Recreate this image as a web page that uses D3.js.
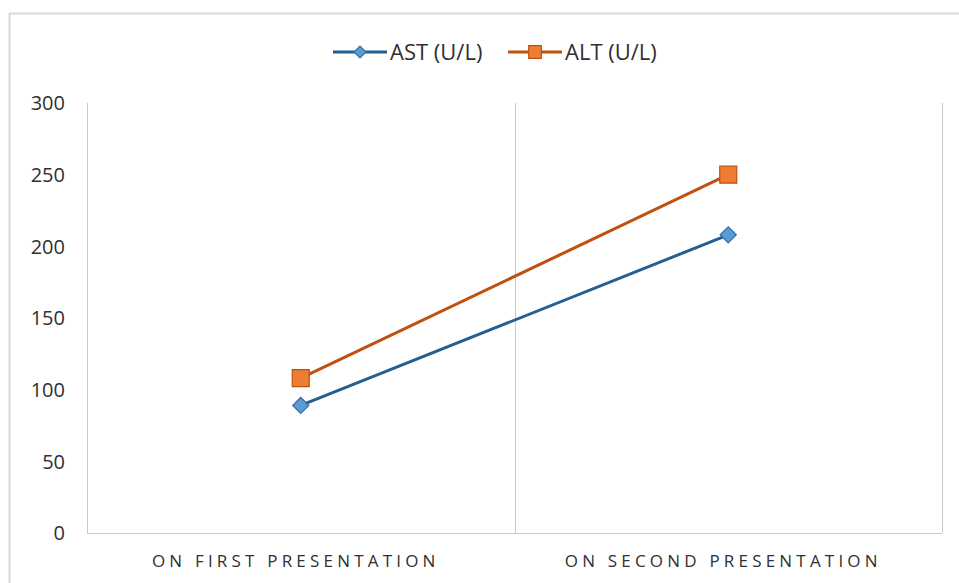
<!DOCTYPE html>
<html><head><meta charset="utf-8">
<script src="https://cdn.jsdelivr.net/npm/d3@7"></script>
<style>body{margin:0;background:#fff}svg{display:block}text{font-family:"Open Sans","Liberation Sans",sans-serif;fill:#303030}</style>
</head><body>
<svg id="c" width="959" height="583"></svg>
<script>
const categories = ["ON FIRST PRESENTATION", "ON SECOND PRESENTATION"];
const seriesNames = ["AST (U/L)", "ALT (U/L)"];
const astValues = [89, 208];
const altValues = [108, 250];
const yTicks = [0, 50, 100, 150, 200, 250, 300];

const svg = d3.select("#c");
svg.append("rect").attr("x", 9.5).attr("y", 13.5).attr("width", 980).attr("height", 600)
  .attr("fill", "#fff").attr("stroke", "#d9d9d9").attr("stroke-width", 2);

const L = 87, R = 942, T = 103, B = 533;
const x = d3.scaleBand().domain(categories).range([L, R]);
const y = d3.scaleLinear().domain([0, 300]).range([B, T]);

const bounds = [L, ...categories.map(c => x(c) + x.bandwidth())];
svg.selectAll("line.vg").data(bounds).enter().append("line")
  .attr("x1", d => Math.round(d) + 0.5).attr("x2", d => Math.round(d) + 0.5)
  .attr("y1", T).attr("y2", B).attr("stroke", "#c8c8c8").attr("stroke-width", 1);
svg.append("line").attr("x1", L).attr("x2", R).attr("y1", B + 0.5).attr("y2", B + 0.5)
  .attr("stroke", "#c8c8c8");

svg.selectAll("text.yt").data(yTicks).enter().append("text")
  .attr("x", 65).attr("y", d => y(d)).attr("dy", "0.36em").attr("text-anchor", "end")
  .attr("font-size", 20).text(d => d);

svg.selectAll("text.cat").data(categories).enter().append("text")
  .attr("x", d => x(d) + x.bandwidth() / 2 - 5).attr("y", 567).attr("text-anchor", "middle")
  .attr("font-size", 17).attr("letter-spacing", "4.2px").text(d => d);

const cx = c => x(c) + x.bandwidth() / 2;
const line = d3.line().x((d, i) => cx(categories[i])).y(d => y(d));

const series = [
  {name: seriesNames[0], values: astValues, line: "#255E91", fill: "#5B9BD5", stroke: "#2E6DA8", rot: 45, size: 130},
  {name: seriesNames[1], values: altValues, line: "#C0500F", fill: "#ED7D31", stroke: "#C0500F", rot: 0, size: 289}
];

series.forEach(s => {
  svg.append("path").datum(s.values).attr("d", line).attr("fill", "none")
    .attr("stroke", s.line).attr("stroke-width", 3);
  svg.selectAll(null).data(s.values).enter().append("path")
    .attr("d", d3.symbol().type(d3.symbolSquare).size(s.size))
    .attr("transform", (d, i) => `translate(${cx(categories[i])},${y(d)}) rotate(${s.rot})`)
    .attr("fill", s.fill).attr("stroke", s.stroke).attr("stroke-width", 1.2);
});

const leg = [{x: 333}, {x: 508}];
series.forEach((s, i) => {
  const g = svg.append("g").attr("transform", `translate(${leg[i].x},52)`);
  g.append("line").attr("x1", 0).attr("x2", 54).attr("y1", 0).attr("y2", 0)
    .attr("stroke", s.line).attr("stroke-width", 3);
  g.append("path").attr("d", d3.symbol().type(d3.symbolSquare).size(s.size * 0.55))
    .attr("transform", `translate(27,0) rotate(${s.rot})`)
    .attr("fill", s.fill).attr("stroke", s.stroke).attr("stroke-width", 1.2);
  g.append("text").attr("x", 57).attr("y", 0).attr("dy", "0.36em").attr("font-size", 22).text(s.name);
});
</script>
</body></html>
